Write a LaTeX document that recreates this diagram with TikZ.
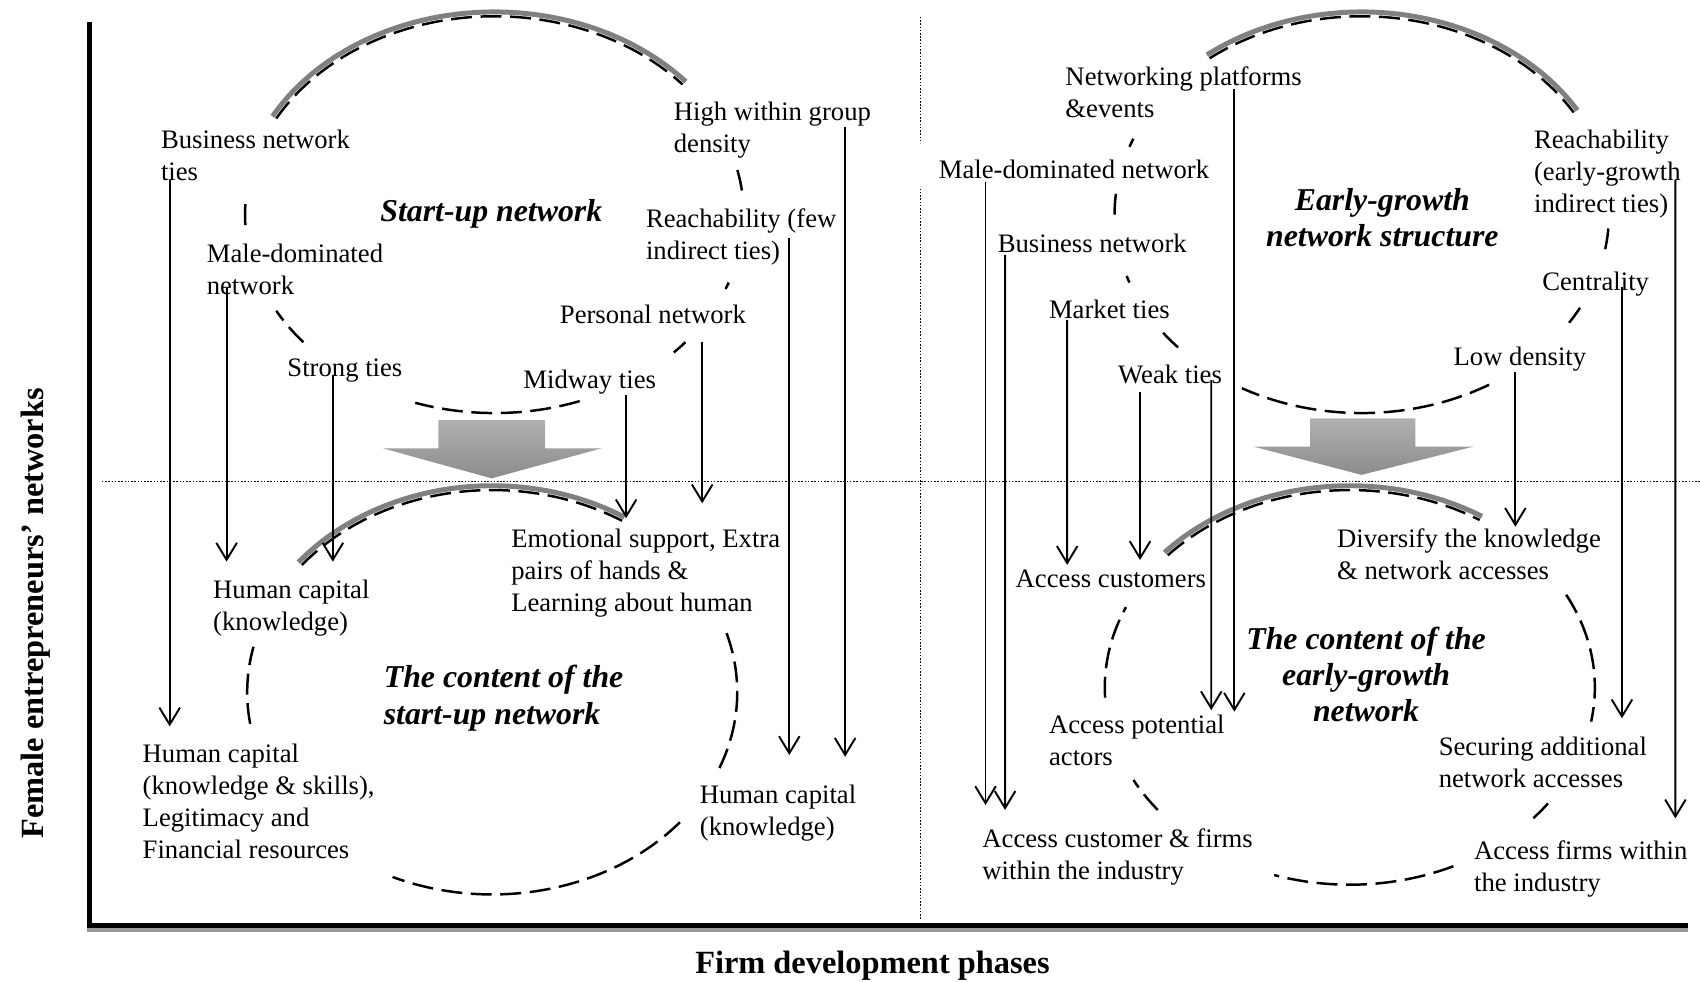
\documentclass[tikz,border=0pt]{standalone}
\usepackage{fontspec}
\setmainfont{Liberation Serif}
\usetikzlibrary{arrows.meta,calc}
\definecolor{rimgray}{gray}{0.5}
\definecolor{shadowgray}{gray}{0.6}
\definecolor{blocktop}{gray}{0.69}
\definecolor{blockbottom}{gray}{0.55}
% part of an ellipse: style, centre x, centre y, x radius, y radius, first angle, last angle
\newcommand{\ovalarc}[7]{\draw[#1] plot[domain=#6:#7, samples=90, variable=\x] ({#2+#4*cos(\x)},{#3+#5*sin(\x)});}
\begin{document}
\begin{tikzpicture}[x=0.02cm, y=-0.02cm,
  lbl/.style={inner sep=0pt, anchor=north west, align=left, font=\fontsize{14}{16.8}\selectfont},
  ttl/.style={inner sep=0pt, font=\fontsize{16.7}{19}\selectfont\bfseries\itshape},
  axl/.style={inner sep=0pt, font=\fontsize{17}{20}\selectfont\bfseries},
  flow/.style={line width=1pt, -{Straight Barb[length=8.9pt,width=10.8pt]}},
  ring/.style={line width=1.3pt, dash pattern=on 11pt off 4.5pt},
  rim/.style={line width=2.6pt, draw=rimgray},
  axis/.style={line width=2.6pt},
  axshadow/.style={line width=2.6pt, draw=shadowgray},
  guide/.style={line width=0.7pt, dash pattern=on 0.8pt off 0.9pt},
  blockarrow/.style={top color=blocktop, bottom color=blockbottom, draw=none}]
\useasboundingbox (0,0) rectangle (1568,905);

% phase and level separators
\draw[guide] (849,15.5) -- (849,132);
\draw[guide] (849,174) -- (849,848);
\draw[guide] (94,444) -- (1568,444);

% axes with their shadow
\draw[axshadow] (82.8,24.3) -- (82.8,857.6);
\draw[axshadow] (80.5,857.6) -- (1557.2,857.6);
\draw[axis] (82.8,20) -- (82.8,853.3);
\draw[axis] (80.5,853.3) -- (1557.2,853.3);

% block arrows from structure to content
\shade[blockarrow] (404.3,387.4) -- (502.7,387.4) -- (502.7,413.5) -- (555,413.5) -- (453.5,441.2) -- (353,413.5) -- (404.3,413.5) -- cycle;
\shade[blockarrow] (1208.3,385.8) -- (1305.5,385.8) -- (1305.5,412) -- (1358.9,412) -- (1255.8,438) -- (1156.4,412) -- (1208.3,412) -- cycle;

% start-up network structure
\ovalarc{rim}{456}{198}{234}{187}{209}{319}
\ovalarc{ring}{456}{198}{230}{183}{209}{319}
\ovalarc{ring}{456}{198}{230}{183}{177}{185}
\ovalarc{ring}{456}{198}{230}{183}{140}{151}
\ovalarc{ring}{456}{198}{230}{183}{70}{108.5}
\ovalarc{ring}{456}{198}{230}{183}{40}{44}
\ovalarc{ring}{456}{198}{230}{183}{20}{22}
\ovalarc{ring}{456}{198}{230}{183}{347}{353}

% content of the start-up network
\ovalarc{rim}{454}{638.5}{230}{190.5}{219}{302}
\ovalarc{ring}{454}{638.5}{226}{186.5}{219}{302}
\ovalarc{ring}{454}{638.5}{226}{186.5}{171}{193}
\ovalarc{ring}{454}{638.5}{226}{186.5}{-17}{22}
\ovalarc{ring}{454}{638.5}{226}{186.5}{40}{114}

% early-growth network structure
\ovalarc{rim}{1256}{198}{232}{187}{232}{329}
\ovalarc{ring}{1256}{198}{228}{183}{232}{329}
\ovalarc{ring}{1256}{198}{228}{183}{200}{202.5}
\ovalarc{ring}{1256}{198}{228}{183}{180}{187}
\ovalarc{ring}{1256}{198}{228}{183}{160}{162}
\ovalarc{ring}{1256}{198}{228}{183}{138}{145}
\ovalarc{ring}{1256}{198}{228}{183}{59}{119}
\ovalarc{ring}{1256}{198}{228}{183}{28}{33}
\ovalarc{ring}{1256}{198}{228}{183}{4}{11}

% content of the early-growth network
\ovalarc{rim}{1245}{634}{230}{186}{222}{302}
\ovalarc{ring}{1245}{634}{226}{182}{222}{302}
\ovalarc{ring}{1245}{634}{226}{182}{177}{204}
\ovalarc{ring}{1245}{634}{226}{182}{141.6}{152}
\ovalarc{ring}{1245}{634}{226}{182}{65}{108}
\ovalarc{ring}{1245}{634}{226}{182}{36}{41.5}
\ovalarc{ring}{1245}{634}{226}{182}{-28}{10}

% titles
\node[ttl, anchor=north west, align=left] (sut) at (350.5,183.5) {Start-up network};
\node[ttl, anchor=north west, align=left] (csu) at (353.7,613.4) {The content of the\\start-up network};
\node[ttl, anchor=north, align=center] (egs) at (1275,173.7) {Early-growth\\network structure};
\node[ttl, anchor=north, align=center] (ceg) at (1260,578) {The content of the\\early-growth\\network};

% start-up network ties
\node[lbl] (bnt) at (148.2,119.9) {Business network\\ties};
\node[lbl] (mdn) at (190.4,224.4) {Male-dominated\\network};
\node[lbl] (stt) at (264.8,330.5) {Strong ties};
\node[lbl] (mwt) at (482.4,341.3) {Midway ties};
\node[lbl] (pen) at (516.1,281.3) {Personal network};
\node[lbl] (rch) at (595.5,192.2) {Reachability (few\\indirect ties)};
\node[lbl] (hwg) at (621.2,93.8) {High within group\\density};

% start-up resources
\node[lbl] (hck) at (196.3,535) {Human capital\\(knowledge)};
\node[lbl] (emo) at (471.2,487.3) {Emotional support, Extra\\pairs of hands \&\\Learning about human};
\node[lbl] (hcks) at (131.3,685.6) {Human capital\\(knowledge \& skills),\\Legitimacy and\\Financial resources};
\node[lbl] (hckr) at (645.2,724) {Human capital\\(knowledge)};

% early-growth network ties
\node[lbl] (npe) at (982.4,61.5) {Networking platforms\\\&events};
\node[lbl] (mdg) at (865.6,147.6) {Male-dominated network};
\node[lbl] (bng) at (920,215.2) {Business network};
\node[lbl] (mkt) at (967.2,276.7) {Market ties};
\node[lbl] (wkt) at (1031,336.7) {Weak ties};
\node[lbl] (rcg) at (1414.6,119.9) {Reachability\\(early-growth\\indirect ties)};
\node[lbl] (cen) at (1422.2,250.6) {Centrality};
\node[lbl] (lwd) at (1340.4,319.7) {Low density};

% early-growth resources
\node[lbl] (acu) at (936.5,525.7) {Access customers};
\node[lbl] (div) at (1233,487.3) {Diversify the knowledge\\\& network accesses};
\node[lbl] (apa) at (967.3,659.5) {Access potential\\actors};
\node[lbl] (sec) at (1326.7,679.5) {Securing additional\\network accesses};
\node[lbl] (acf) at (905.8,764) {Access customer \& firms\\within the industry};
\node[lbl] (afw) at (1359.3,774.8) {Access firms within\\the industry};

% axis titles
\node[axl, anchor=base] (xlab) at (804.7,897.7) {Firm development phases};
\node[axl, rotate=90, anchor=base] (ylab) at (40.5,565.7) {Female entrepreneurs’ networks};

% start-up links
\draw[flow] ($(bnt.north west)+(8.3,46.1)$) -- ($(hcks.north west)+(25.2,-15.6)$);
\draw[flow] ($(mdn.north west)+(18.6,41.6)$) -- ($(hck.north west)+(12.7,-17)$);
\draw[flow] ($(stt.north west)+(42.2,15.5)$) -- ($(hck.north west)+(110.7,-17)$);
\draw[flow] ($(mwt.north west)+(95.1,23)$) -- ($(emo.north west)+(106.3,-9.3)$);
\draw[flow] ($(pen.north west)+(131.6,33.8)$) -- ($(emo.north west)+(176.5,-23.1)$);
\draw[flow] ($(rch.north west)+(132.5,27.6)$) -- ($(hckr.north west)+(82.8,-27.6)$);
\draw[flow] ($(hwg.north west)+(158.3,23)$) -- ($(hckr.north west)+(134.3,-26)$);

% early-growth links
\draw[flow] ($(mdg.north west)+(43.4,20)$) -- ($(acf.north west)+(3.2,-21.5)$);
\draw[flow] ($(bng.north west)+(7,20)$) -- ($(acf.north west)+(21.2,-17)$);
\draw[flow] ($(mkt.north west)+(17.1,18.3)$) -- ($(acu.north west)+(47.8,-4.7)$);
\draw[flow] ($(wkt.north west)+(20.5,24.5)$) -- ($(acu.north west)+(115,-9.2)$);
\draw[flow] ($(wkt.north west)+(86.2,13.8)$) -- ($(apa.north west)+(149.9,-4.5)$);
\draw[flow] ($(npe.north west)+(156.1,20.9)$) -- ($(apa.north west)+(171.2,-3.1)$);
\draw[flow] ($(lwd.north west)+(57.3,23.1)$) -- ($(div.north west)+(164.7,-1.5)$);
\draw[flow] ($(cen.north west)+(73.8,13.8)$) -- ($(sec.north west)+(169.3,-17)$);
\draw[flow] ($(rcg.north west)+(130.7,46.1)$) -- ($(afw.north west)+(186,-20)$);
\end{tikzpicture}
\end{document}
